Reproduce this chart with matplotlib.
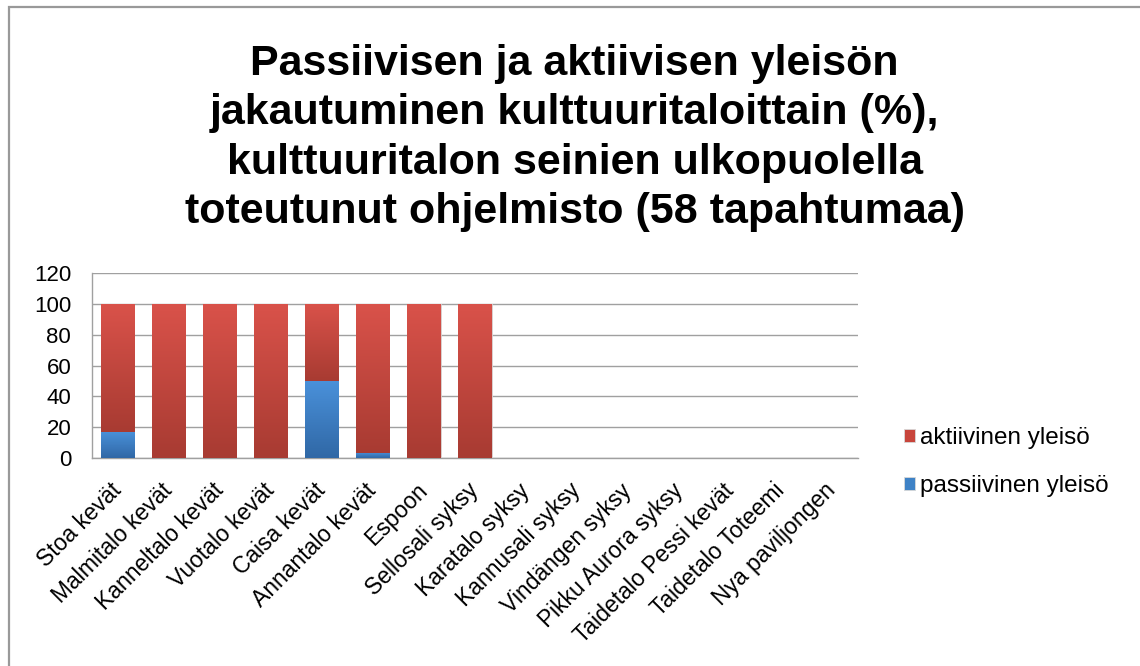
import matplotlib
matplotlib.use("Agg")
import matplotlib.pyplot as plt
import numpy as np
from matplotlib.patches import Rectangle
from matplotlib.colors import LinearSegmentedColormap

categories = ["Stoa kevät", "Malmitalo kevät", "Kanneltalo kevät", "Vuotalo kevät",
              "Caisa kevät", "Annantalo kevät", "Espoon", "Sellosali syksy",
              "Karatalo syksy", "Kannusali syksy", "Vindängen syksy", "Pikku Aurora syksy",
              "Taidetalo Pessi kevät", "Taidetalo Toteemi", "Nya paviljongen"]
passive = [17, 0, 0, 0, 50, 3.5, 0, 0, 0, 0, 0, 0, 0, 0, 0]
active = [83, 100, 100, 100, 50, 96.5, 100, 100, 0, 0, 0, 0, 0, 0, 0]
yticks = [0, 20, 40, 60, 80, 100, 120]
title = ("Passiivisen ja aktiivisen yleisön\njakautuminen kulttuuritaloittain (%),\n"
         "kulttuuritalon seinien ulkopuolella\ntoteutunut ohjelmisto (58 tapahtumaa)")

plt.rcParams['font.family'] = ['Liberation Sans', 'DejaVu Sans']

fig = plt.figure(figsize=(11.4, 6.66), dpi=100)
fig.patches.append(Rectangle((8.5 / 1140, -0.05), 1.2, 1.05 - 7.5 / 666, transform=fig.transFigure,
                             fill=False, edgecolor='#999999', linewidth=1.6))
ax = fig.add_axes([92 / 1140, 1 - 458 / 666, (858 - 92) / 1140, (458 - 273) / 666])

x = np.arange(len(categories))
red = '#C8453B'
blue = '#3E82C6'
red_cmap = LinearSegmentedColormap.from_list('r', ['#A83B32', '#D9524A'])
blue_cmap = LinearSegmentedColormap.from_list('b', ['#3068A6', '#4A91DA'])

b1 = ax.bar(x, passive, width=0.65, color=blue, edgecolor='#d8d8d8', linewidth=0.6,
            label='passiivinen yleisö', zorder=3)
b2 = ax.bar(x, active, width=0.65, bottom=passive, color=red, edgecolor='#d8d8d8',
            linewidth=0.6, label='aktiivinen yleisö', zorder=3)

grad = np.linspace(0, 1, 64).reshape(-1, 1)
for bars, cmap in ((b1, blue_cmap), (b2, red_cmap)):
    for p in bars:
        h = p.get_height()
        if h <= 0:
            continue
        x0, y0 = p.get_x(), p.get_y()
        im = ax.imshow(grad, cmap=cmap, origin='lower', aspect='auto',
                       extent=(x0, x0 + p.get_width(), y0, y0 + h), zorder=3.5,
                       interpolation='bilinear')
        im.set_clip_path(p)

ax.set_xlim(-0.5, len(categories) - 0.5)
ax.set_ylim(0, 120)
ax.set_yticks(yticks)
ax.set_yticklabels([str(v) for v in yticks], fontsize=16)
ax.set_xticks(x)
ax.set_xticklabels(categories, rotation=45, ha='right', va='center',
                   rotation_mode='anchor', fontsize=16.5)
ax.tick_params(axis='y', length=0, pad=15)
ax.tick_params(axis='x', length=0, pad=21)
ax.grid(axis='y', color='#a0a0a0', linewidth=1.0, zorder=0)
for s in ['top', 'right']:
    ax.spines[s].set_visible(False)
for s in ['left', 'bottom']:
    ax.spines[s].set_color('#a0a0a0')
    ax.spines[s].set_linewidth(1.0)

handles, labels = ax.get_legend_handles_labels()
fig.legend(handles[::-1], labels[::-1], loc='center left', bbox_to_anchor=(0.774, 0.306),
           frameon=False, fontsize=17.5, handlelength=0.45, handleheight=0.45,
           handletextpad=0.2, labelspacing=1.05)

fig.text(0.504, 0.793, title, ha='center', va='center', fontsize=31,
         fontweight='bold', linespacing=1.3)

fig.savefig('out.png', dpi=100)
